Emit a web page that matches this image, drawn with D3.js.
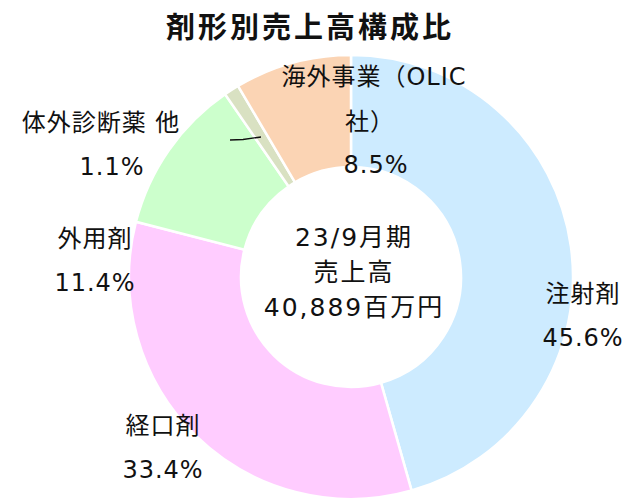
<!DOCTYPE html>
<html><head><meta charset="utf-8">
<script src="https://cdn.jsdelivr.net/npm/d3@7"></script>
<style>
html,body{margin:0;padding:0;background:#fff;}
svg text{font-family:"DejaVu Sans","Noto Sans CJK JP",sans-serif;fill:#111;}
</style></head>
<body>
<svg id="chart" width="631" height="498"></svg>
<script>
// ---- data ----
const title = "剤形別売上高構成比";
const categories = ["注射剤", "経口剤", "外用剤", "体外診断薬 他", "海外事業（OLIC社）"];
const shares = [45.6, 33.4, 11.4, 1.1, 8.5];
const centerLines = ["23/9月期", "売上高", "40,889百万円"];

// ---- layout / style ----
const colors = ["#CDEBFF", "#FFCCFF", "#CCFFCC", "#D9E1C2", "#FBD4B4"];
const labelLayout = [
  {x: 583, y: 302, wrap: null},
  {x: 163, y: 434, wrap: null},
  {x: 95,  y: 247, wrap: null},
  {x: 101, y: 131, wrap: null, pctX: 112},
  {x: 374, y: 85,  wrap: 9, pctX: 376, subX: 370}
];
const cx = 351, cy = 277, R = 222, r0 = 110;
const lineGap = 43.5;

const svg = d3.select("#chart");
svg.append("text").attr("x", 310).attr("y", 38).attr("text-anchor", "middle")
  .style("font-family", "'Noto Sans CJK JP',sans-serif").style("font-weight", 700)
  .style("font-size", "29px").style("letter-spacing", "3px").text(title);

const pie = d3.pie().sort(null).value(d => d);
const arc = d3.arc().innerRadius(r0).outerRadius(R);
const g = svg.append("g").attr("transform", `translate(${cx},${cy})`);
g.selectAll("path").data(pie(shares)).join("path")
  .attr("d", arc).attr("fill", (d, i) => colors[i])
  .attr("stroke", "#fff").attr("stroke-width", 2.5);

// leader line for small slice
svg.append("polyline").attr("points", "230,140 243,139.5 261,137")
  .attr("fill", "none").attr("stroke", "#111").attr("stroke-width", 1.3);

// labels
const fmt = d3.format(".1f");
const fs = "24px";
categories.forEach((c, i) => {
  const L = labelLayout[i];
  const lines = L.wrap ? [c.slice(0, L.wrap), c.slice(L.wrap)] : [c];
  lines.forEach((t, j) => {
    svg.append("text").attr("x", j > 0 && L.subX ? L.subX : L.x).attr("y", L.y + j * (L.wrap ? 45 : lineGap))
      .attr("text-anchor", "middle").style("font-size", fs).style("letter-spacing", "1px").text(t);
  });
  const py = L.wrap ? 173 : L.y + lineGap;
  svg.append("text").attr("x", L.pctX || L.x).attr("y", py)
    .attr("text-anchor", "middle").style("font-size", fs).style("letter-spacing", "1px").text(fmt(shares[i]) + "%");
});

// center text
const cys = [246, 281, 316];
centerLines.forEach((t, j) => {
  svg.append("text").attr("x", 354).attr("y", cys[j]).attr("text-anchor", "middle")
    .style("font-size", "25px").style("letter-spacing", "2px").text(t);
});
</script>
</body></html>
